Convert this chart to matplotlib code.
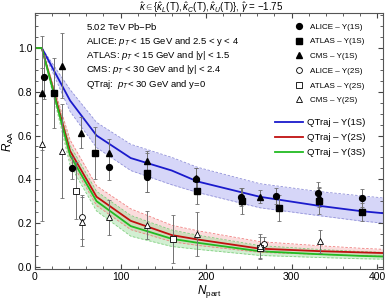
import matplotlib
matplotlib.use("Agg")
import matplotlib.pyplot as plt
from matplotlib.lines import Line2D
import numpy as np

plt.rcParams['font.family'] = ['Liberation Sans', 'DejaVu Sans']
plt.rcParams['mathtext.fontset'] = 'custom'
plt.rcParams['mathtext.rm'] = 'Liberation Sans'
plt.rcParams['mathtext.it'] = 'Liberation Sans:italic'

# ---------------- theory curves (QTraj) ----------------
npart_th = [0, 8, 41, 72, 112, 160, 190, 263, 330, 380, 407]
q1s = [1.0, 1.0, 0.76, 0.60, 0.497, 0.44, 0.39, 0.32, 0.28, 0.255, 0.245]
q1s_hi = [1.0, 1.0, 0.81, 0.66, 0.56, 0.50, 0.455, 0.38, 0.345, 0.325, 0.315]
q1s_lo = [1.0, 1.0, 0.71, 0.545, 0.44, 0.375, 0.34, 0.27, 0.235, 0.21, 0.20]
q2s = [1.0, 1.0, 0.53, 0.32, 0.21, 0.145, 0.125, 0.083, 0.072, 0.066, 0.063]
q2s_hi = [1.0, 1.0, 0.58, 0.37, 0.265, 0.19, 0.165, 0.115, 0.097, 0.085, 0.08]
q2s_lo = [1.0, 1.0, 0.49, 0.28, 0.17, 0.115, 0.098, 0.066, 0.057, 0.051, 0.049]
q3s = [1.0, 1.0, 0.51, 0.30, 0.186, 0.128, 0.11, 0.071, 0.058, 0.05, 0.047]
q3s_hi = [1.0, 1.0, 0.555, 0.345, 0.235, 0.168, 0.145, 0.097, 0.08, 0.07, 0.066]
q3s_lo = [1.0, 1.0, 0.465, 0.255, 0.14, 0.093, 0.08, 0.052, 0.043, 0.037, 0.035]

# ---------------- experimental data ----------------
alice1_n = [11, 43, 87, 131, 188, 241, 282, 331, 382]
alice1_r = [0.866, 0.45, 0.458, 0.41, 0.40, 0.32, 0.324, 0.336, 0.314]
alice1_e = [0.10, 0.05, 0.06, 0.07, 0.05, 0.04, 0.035, 0.05, 0.04]

atlas1_n = [22, 70, 131, 189, 242, 285, 332, 383]
atlas1_r = [0.793, 0.52, 0.43, 0.348, 0.30, 0.27, 0.30, 0.25]
atlas1_e = [0.16, 0.12, 0.09, 0.06, 0.06, 0.06, 0.06, 0.04]

cms1_n = [8, 31, 54, 87, 131, 188, 263, 332]
cms1_r = [0.793, 0.92, 0.613, 0.522, 0.484, 0.405, 0.32, 0.32]
cms1_e = [0.26, 0.15, 0.07, 0.06, 0.045, 0.045, 0.03, 0.045]

alice2_n = [55, 268]
alice2_r = [0.227, 0.105]
alice2_e = [0.10, 0.033]

atlas2_n = [48, 161, 263]
atlas2_r = [0.347, 0.126, 0.085]
atlas2_e = [0.13, 0.11, 0.05]

cms2_n = [8, 31, 55, 87, 131, 189, 263, 333]
cms2_r = [0.56, 0.53, 0.207, 0.227, 0.19, 0.15, 0.096, 0.116]
cms2_e = [0.35, 0.215, 0.11, 0.08, 0.063, 0.10, 0.055, 0.053]

fig = plt.figure(figsize=(3.86, 3.08), dpi=100)
ax = fig.add_axes([35/386, 39/308, 348/386, 256/308])

blue = '#1a1acc'
red = '#c01010'
green = '#22bb22'

# bands
ax.fill_between(npart_th, q1s_lo, q1s_hi, color='#d6d6f8', lw=0, zorder=1)
ax.plot(npart_th, q1s_hi, color='#9090d8', lw=0.6, ls=(0, (3, 2)), zorder=1.1)
ax.plot(npart_th, q1s_lo, color='#9090d8', lw=0.6, ls=(0, (3, 2)), zorder=1.1)

ax.fill_between(npart_th, q2s_lo, q2s_hi, color='#f4a0a0', alpha=0.35, lw=0, zorder=1)
ax.plot(npart_th, q2s_hi, color='#f08080', lw=0.6, ls=(0, (3, 2)), zorder=1.1)
ax.plot(npart_th, q2s_lo, color='#f08080', lw=0.6, ls=(0, (3, 2)), zorder=1.1)
ax.fill_between(npart_th, q3s_lo, q3s_hi, color='#90d890', alpha=0.4, lw=0, zorder=1)
ax.plot(npart_th, q3s_hi, color='#80d080', lw=0.6, ls=(0, (3, 2)), zorder=1.1)
ax.plot(npart_th, q3s_lo, color='#80d080', lw=0.6, ls=(0, (3, 2)), zorder=1.1)

ax.plot(npart_th, q1s, color=blue, lw=1.3, zorder=2)
ax.plot(npart_th, q2s, color=red, lw=1.3, zorder=2)
ax.plot(npart_th, q3s, color=green, lw=1.3, zorder=2)

ekw = dict(ecolor='#707070', elinewidth=0.7, capsize=1.6, capthick=0.6, ls='none', zorder=3)
ms = 4.2
ax.errorbar(alice1_n, alice1_r, yerr=alice1_e, fmt='o', mfc='black', mec='black', ms=ms, **ekw)
ax.errorbar(atlas1_n, atlas1_r, yerr=atlas1_e, fmt='s', mfc='black', mec='black', ms=ms-0.4, **ekw)
ax.errorbar(cms1_n, cms1_r, yerr=cms1_e, fmt='^', mfc='black', mec='black', ms=ms, **ekw)
ax.errorbar(alice2_n, alice2_r, yerr=alice2_e, fmt='o', mfc='white', mec='black', mew=0.6, ms=ms, **ekw)
ax.errorbar(atlas2_n, atlas2_r, yerr=atlas2_e, fmt='s', mfc='white', mec='black', mew=0.6, ms=ms-0.4, **ekw)
ax.errorbar(cms2_n, cms2_r, yerr=cms2_e, fmt='^', mfc='white', mec='black', mew=0.6, ms=ms, **ekw)

ax.set_xlim(0, 407)
ax.set_ylim(-0.01, 1.16)
ax.set_xticks([0, 100, 200, 300, 400])
ax.set_yticks([0.0, 0.2, 0.4, 0.6, 0.8, 1.0])
ax.set_yticklabels(['0.0', '0.2', '0.4', '0.6', '0.8', '1.0'])
ax.set_xticks(np.arange(0, 407, 20), minor=True)
ax.set_yticks(np.arange(0, 1.16, 0.05), minor=True)
ax.tick_params(which='both', direction='in', top=True, right=True, labelsize=7.5, colors='#444444', labelcolor='black', pad=2)
ax.tick_params(which='major', length=3.5, width=0.8)
ax.tick_params(which='minor', length=2, width=0.6)
for s in ax.spines.values():
    s.set_color('#555555')
    s.set_linewidth(0.8)

ax.set_xlabel(r'$N_{\rm part}$', fontsize=8.5, labelpad=1)
ax.set_ylabel(r'$R_{\rm AA}$', fontsize=8.5, labelpad=1)
fig.text(0.548, 0.998, r'$\hat{\kappa}\in\{\hat{\kappa}_L({\rm T}),\hat{\kappa}_C({\rm T}),\hat{\kappa}_U({\rm T})\}$, $\hat{\gamma}$ = $-$1.75',
         ha='center', va='top', fontsize=7)

txt = ['5.02 TeV Pb$-$Pb',
       r'ALICE: $p_T$ < 15 GeV and 2.5 < y < 4',
       r'ATLAS: $p_T$ < 15 GeV and |y| < 1.5',
       r'CMS: $p_T$ < 30 GeV and |y| < 2.4',
       r'QTraj:  $p_T$< 30 GeV and y=0']
for i, t in enumerate(txt):
    ax.text((86-35)/348, (269-26.7-i*14.4)/256, t, transform=ax.transAxes, fontsize=6.8, va='center', ha='left')

h1 = [Line2D([], [], ls='none', marker='o', mfc='black', mec='black', ms=ms),
      Line2D([], [], ls='none', marker='s', mfc='black', mec='black', ms=ms-0.4),
      Line2D([], [], ls='none', marker='^', mfc='black', mec='black', ms=ms),
      Line2D([], [], ls='none', marker='o', mfc='white', mec='black', mew=0.6, ms=ms),
      Line2D([], [], ls='none', marker='s', mfc='white', mec='black', mew=0.6, ms=ms-0.4),
      Line2D([], [], ls='none', marker='^', mfc='white', mec='black', mew=0.6, ms=ms)]
l1 = ['ALICE – Y(1S)', 'ATLAS – Y(1S)', 'CMS – Y(1S)', 'ALICE – Y(2S)', 'ATLAS – Y(2S)', 'CMS – Y(2S)']
leg1 = ax.legend(h1, l1, loc='upper left', bbox_to_anchor=((295-35)/348, (269-23)/256), frameon=False,
                 fontsize=5.8, handlelength=1.0, handletextpad=0.85, labelspacing=0.88, borderpad=0, borderaxespad=0)
ax.add_artist(leg1)
h2 = [Line2D([], [], color=blue, lw=1.3), Line2D([], [], color=red, lw=1.3), Line2D([], [], color=green, lw=1.3)]
l2 = ['QTraj – Y(1S)', 'QTraj – Y(2S)', 'QTraj – Y(3S)']
ax.legend(h2, l2, loc='upper left', bbox_to_anchor=((275-35)/348, (269-118)/256), frameon=False,
          fontsize=6.8, handlelength=3.0, handletextpad=0.4, labelspacing=0.66, borderpad=0, borderaxespad=0)

fig.savefig('out.png', dpi=100)
